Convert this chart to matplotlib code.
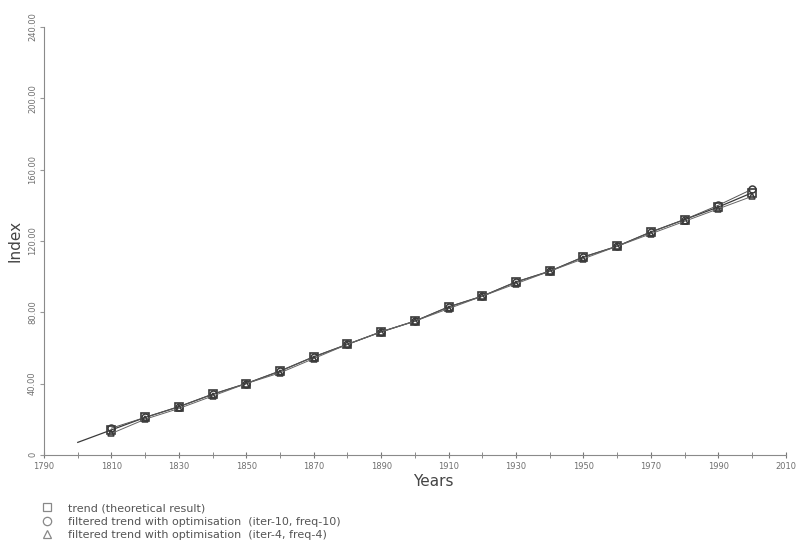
import matplotlib
matplotlib.use("Agg")
import matplotlib.pyplot as plt
from matplotlib.lines import Line2D
from matplotlib.ticker import FixedLocator, FuncFormatter

# Data
years_trend = [1800, 1810, 1820, 1830, 1840, 1850, 1860, 1870, 1880, 1890, 1900,
               1910, 1920, 1930, 1940, 1950, 1960, 1970, 1980, 1990, 2000]
trend = [7, 14, 21, 27, 34, 40, 47, 55, 62, 69, 75,
         83, 89, 97, 103, 111, 117, 125, 132, 139, 147]

years_filt = years_trend[1:]
filt_iter10 = [15, 21, 27, 34, 40, 47, 55, 62, 69, 75,
               83, 89, 97, 103, 111, 117, 125, 132, 140, 149]
filt_iter4 = [12, 20, 26, 33, 40, 46, 54, 62, 69, 75,
              82, 89, 96, 103, 110, 117, 124, 131, 138, 145]

legend_labels = ["trend (theoretical result)",
                 "filtered trend with optimisation  (iter-10, freq-10)",
                 "filtered trend with optimisation  (iter-4, freq-4)"]

ink = "#3a3a3a"
grey = "#707070"

fig = plt.figure(figsize=(8.01, 5.5), dpi=100)
ax = fig.add_axes([0.055, 0.173, 0.926, 0.778])

ax.plot(years_trend, trend, color=ink, lw=0.9, marker="s", ms=5.5,
        mfc="none", mec=ink, mew=1.2, markevery=range(1, len(years_trend)))
ax.plot(years_filt, filt_iter10, color="#555555", lw=0.7, marker="o", ms=5,
        mfc="none", mec=ink, mew=1.1)
ax.plot(years_filt, filt_iter4, color="#666666", lw=0.7, marker="^", ms=5,
        mfc="none", mec=ink, mew=1.1)

ax.set_xlim(1790, 2010)
ax.set_ylim(0, 240)

for s in ["top", "right"]:
    ax.spines[s].set_visible(False)
for s in ["left", "bottom"]:
    ax.spines[s].set_color("#8a8a8a")
    ax.spines[s].set_linewidth(0.8)

ax.xaxis.set_major_locator(FixedLocator(list(range(1790, 2011, 20))))
ax.xaxis.set_minor_locator(FixedLocator(list(range(1800, 2011, 20))))
ax.tick_params(axis="x", which="both", direction="inout", length=5,
               color="#777777", labelsize=6, labelcolor=grey, pad=3)

ax.set_yticks([0, 40, 80, 120, 160, 200, 240])
ax.yaxis.set_major_formatter(FuncFormatter(lambda v, p: "0" if v == 0 else f"{v:.2f}"))
ax.tick_params(axis="y", direction="out", length=3, color="#999999",
               labelsize=6, labelcolor=grey, pad=2)
for lab in ax.get_yticklabels():
    lab.set_rotation(90)
    lab.set_va("center")

ax.set_xlabel("Years", fontsize=11, color="#444444", labelpad=3)
ax.xaxis.set_label_coords(0.525, -0.045)
ax.set_ylabel("Index", fontsize=11, color="#444444", labelpad=4)

handles = [Line2D([], [], ls="none", marker=m, ms=6, mfc="none", mec="#888888", mew=0.9)
           for m in ["s", "o", "^"]]
fig.legend(handles, legend_labels, loc="upper left", bbox_to_anchor=(0.045, 0.093),
           frameon=False, fontsize=8, labelcolor="#555555", labelspacing=0.3,
           handletextpad=1.3, borderaxespad=0, handlelength=1.2)

fig.savefig("out.png", dpi=100)
